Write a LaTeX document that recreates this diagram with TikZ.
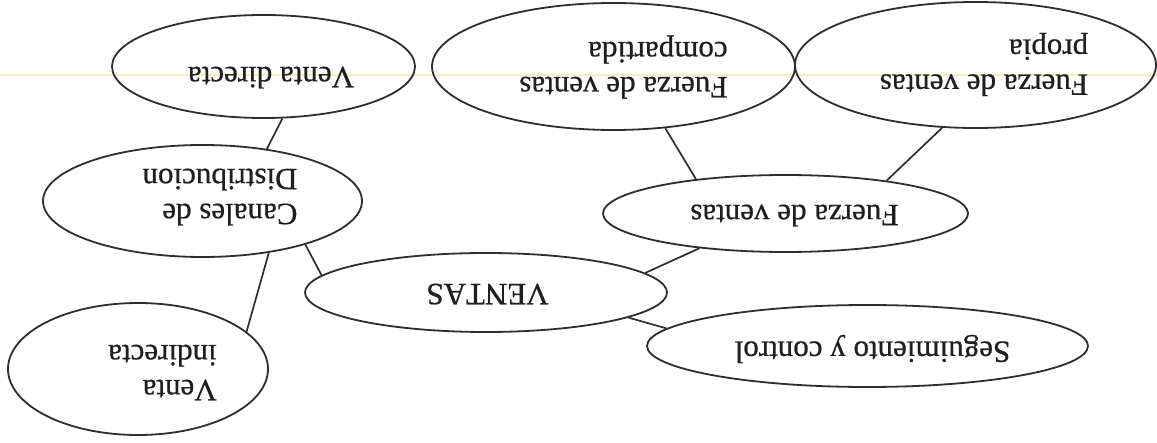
\documentclass[tikz,border=0pt]{standalone}
\usepackage{fontspec}
\setmainfont[Kerning=Off,FakeBold=0.6]{Liberation Serif}
\usetikzlibrary{shapes.geometric}
\begin{document}
\begin{tikzpicture}[x=1pt,y=-1pt,
  bubble/.style={ellipse, draw=black!82, line width=1.8pt, inner sep=0pt},
  lbl/.style={rotate=180, align=left, inner sep=0pt, text=black!88,
    font=\fontsize{31}{35}\selectfont},
  link/.style={draw=black!82, line width=1.7pt},
  scanline/.style={draw={rgb,255:red,244;green,242;blue,185}, line width=1.2pt}]

% page and faint horizontal rule
\fill[white] (0,0) rectangle (1157,443);
\useasboundingbox (0,0) rectangle (1157,443);
\draw[scanline] (0,75) -- (1157,75);

% ellipses
\node[bubble, minimum width=303pt, minimum height=103pt] (vd) at (263.5,66.5) {};
\node[bubble, minimum width=363pt, minimum height=127pt] (cp) at (613.5,66.5) {};
\node[bubble, minimum width=361pt, minimum height=126pt] (pr) at (975.5,65) {};
\node[bubble, minimum width=365pt, minimum height=77pt]  (fv) at (785.5,213.5) {};
\node[bubble, minimum width=319pt, minimum height=112pt] (cd) at (202.5,201) {};
\node[bubble, minimum width=260pt, minimum height=132pt] (vi) at (138,369) {};
\node[bubble, minimum width=362pt, minimum height=79pt]  (ve) at (486,292.5) {};
\node[bubble, minimum width=441pt, minimum height=82pt]  (sc) at (867.5,346) {};

% labels (set upside down)
\node[lbl] (vd-t) at (271,77.5)   {Venta directa};
\node[lbl] (cp-t) at (623.5,67)   {Fuerza de ventas\\compartida};
\node[lbl] (pr-t) at (984,64.5)   {Fuerza de ventas\\propia};
\node[lbl] (fv-t) at (794.5,215.5){Fuerza de ventas};
\node[lbl] (cd-t) at (220,197)    {Canales de\\Distribucion};
\node[lbl] (vi-t) at (162.5,372.5){Venta\\indirecta};
\node[lbl] (ve-t) at (487.5,294)  {VENTAS};
\node[lbl] (sc-t) at (872.5,349)  {Seguimiento y control};

% connectors
\draw[link] (vd.290)   -- (cd.39);
\draw[link] (cd.322.4) -- (vi.19.7);
\draw[link] (cd.337.7) -- (ve.174.8);
\draw[link] (ve.7.2)   -- (fv.202);
\draw[link] (ve.350.7) -- (sc.175.4);
\draw[link] (fv.159.6) -- (cp.310.6);
\draw[link] (fv.18.8)  -- (pr.242);
\end{tikzpicture}
\end{document}
